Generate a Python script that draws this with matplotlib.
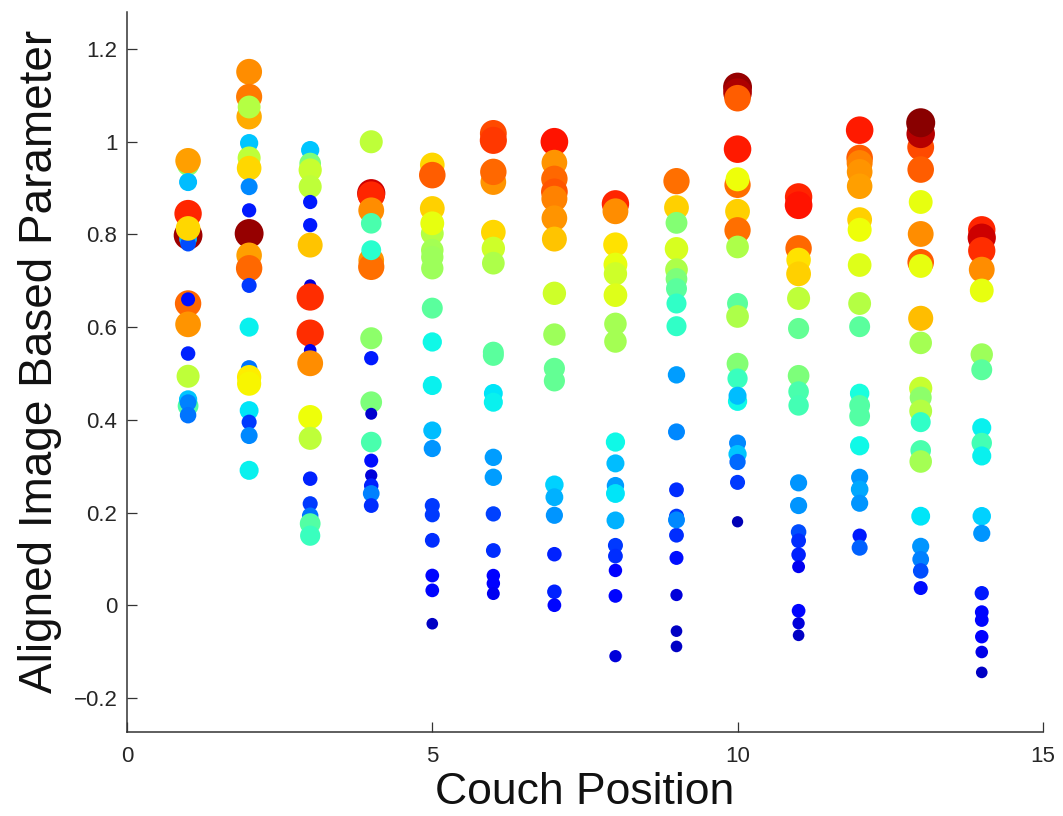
import numpy as np
import matplotlib
matplotlib.use("Agg")
import matplotlib.pyplot as plt

# ---- data: per couch position, y values and colour value (jet, 0..1) ----
couch_positions = [1, 2, 3, 4, 5, 6, 7, 8, 9, 10, 11, 12, 13, 14]

y_pos01 = [0.95, 0.959, 0.913, 0.845, 0.798, 0.79, 0.78, 0.813, 0.651, 0.66, 0.606, 0.543, 0.494, 0.43, 0.444, 0.437, 0.41]
c_pos01 = [0.52, 0.74, 0.31, 0.87, 0.97, 0.30, 0.20, 0.68, 0.80, 0.14, 0.75, 0.16, 0.58, 0.45, 0.32, 0.25, 0.24]

y_pos02 = [1.151, 1.097, 1.054, 1.075, 0.997, 0.965, 0.943, 0.903, 0.852, 0.802, 0.755, 0.727, 0.69, 0.60, 0.511, 0.492, 0.478, 0.42, 0.395, 0.366, 0.291]
c_pos02 = [0.76, 0.78, 0.73, 0.57, 0.32, 0.58, 0.68, 0.26, 0.15, 0.98, 0.74, 0.80, 0.18, 0.36, 0.24, 0.66, 0.65, 0.35, 0.18, 0.26, 0.36]

y_pos03 = [0.982, 0.953, 0.939, 0.903, 0.870, 0.82, 0.777, 0.69, 0.665, 0.587, 0.55, 0.522, 0.406, 0.36, 0.273, 0.219, 0.193, 0.176, 0.15]
c_pos03 = [0.32, 0.50, 0.59, 0.58, 0.15, 0.15, 0.70, 0.08, 0.86, 0.86, 0.09, 0.76, 0.64, 0.58, 0.16, 0.18, 0.24, 0.45, 0.42]

y_pos04 = [1.0, 0.889, 0.885, 0.852, 0.824, 0.744, 0.73, 0.766, 0.576, 0.533, 0.438, 0.413, 0.352, 0.312, 0.28, 0.258, 0.241, 0.215]
c_pos04 = [0.58, 0.93, 0.87, 0.76, 0.44, 0.75, 0.79, 0.40, 0.52, 0.15, 0.50, 0.07, 0.44, 0.14, 0.08, 0.16, 0.25, 0.17]

y_pos05 = [0.95, 0.928, 0.856, 0.802, 0.824, 0.766, 0.751, 0.727, 0.641, 0.568, 0.474, 0.377, 0.338, 0.215, 0.195, 0.14, 0.064, 0.032, -0.04]
c_pos05 = [0.68, 0.81, 0.69, 0.57, 0.63, 0.55, 0.54, 0.54, 0.46, 0.37, 0.36, 0.31, 0.27, 0.18, 0.18, 0.17, 0.13, 0.13, 0.06]

y_pos06 = [1.018, 1.003, 0.913, 0.935, 0.805, 0.77, 0.738, 0.546, 0.539, 0.457, 0.438, 0.319, 0.276, 0.197, 0.118, 0.064, 0.047, 0.025]
c_pos06 = [0.83, 0.85, 0.75, 0.80, 0.68, 0.60, 0.56, 0.46, 0.46, 0.35, 0.36, 0.28, 0.28, 0.19, 0.17, 0.12, 0.12, 0.10]

y_pos07 = [1.0, 0.955, 0.92, 0.892, 0.877, 0.835, 0.79, 0.673, 0.584, 0.511, 0.484, 0.26, 0.233, 0.194, 0.11, 0.029, 0.0]
c_pos07 = [0.89, 0.75, 0.80, 0.82, 0.77, 0.75, 0.70, 0.60, 0.54, 0.47, 0.47, 0.33, 0.30, 0.27, 0.16, 0.16, 0.13]

y_pos08 = [0.866, 0.85, 0.778, 0.735, 0.715, 0.669, 0.607, 0.569, 0.352, 0.306, 0.258, 0.241, 0.183, 0.129, 0.106, 0.075, 0.02, -0.11]
c_pos08 = [0.87, 0.76, 0.67, 0.63, 0.60, 0.62, 0.55, 0.55, 0.37, 0.31, 0.28, 0.35, 0.30, 0.18, 0.17, 0.12, 0.13, 0.08]

y_pos09 = [0.915, 0.858, 0.825, 0.769, 0.724, 0.704, 0.683, 0.651, 0.602, 0.497, 0.374, 0.249, 0.192, 0.151, 0.184, 0.102, 0.022, -0.056, -0.089]
c_pos09 = [0.79, 0.69, 0.51, 0.61, 0.56, 0.50, 0.46, 0.41, 0.41, 0.28, 0.26, 0.17, 0.18, 0.17, 0.26, 0.14, 0.08, 0.06, 0.06]

y_pos10 = [1.118, 1.106, 1.094, 0.984, 0.907, 0.919, 0.85, 0.809, 0.773, 0.651, 0.623, 0.521, 0.489, 0.44, 0.452, 0.35, 0.326, 0.309, 0.265, 0.18]
c_pos10 = [0.98, 0.96, 0.81, 0.88, 0.79, 0.64, 0.69, 0.79, 0.56, 0.46, 0.56, 0.51, 0.42, 0.37, 0.31, 0.26, 0.32, 0.23, 0.18, 0.05]

y_pos11 = [0.881, 0.863, 0.77, 0.745, 0.715, 0.662, 0.597, 0.495, 0.461, 0.431, 0.264, 0.215, 0.158, 0.139, 0.109, 0.083, -0.012, -0.039, -0.065]
c_pos11 = [0.87, 0.89, 0.80, 0.67, 0.69, 0.58, 0.47, 0.50, 0.44, 0.43, 0.27, 0.27, 0.20, 0.17, 0.16, 0.10, 0.13, 0.08, 0.06]

y_pos12 = [1.025, 0.965, 0.954, 0.935, 0.904, 0.832, 0.81, 0.734, 0.651, 0.601, 0.457, 0.431, 0.408, 0.344, 0.276, 0.25, 0.22, 0.15, 0.124]
c_pos12 = [0.88, 0.81, 0.77, 0.75, 0.74, 0.69, 0.64, 0.62, 0.57, 0.46, 0.38, 0.45, 0.45, 0.37, 0.27, 0.29, 0.27, 0.15, 0.22]

y_pos13 = [0.988, 1.017, 1.041, 0.94, 0.87, 0.801, 0.74, 0.732, 0.619, 0.566, 0.468, 0.448, 0.419, 0.395, 0.334, 0.31, 0.192, 0.127, 0.099, 0.074, 0.037]
c_pos13 = [0.83, 0.95, 0.99, 0.81, 0.63, 0.76, 0.81, 0.63, 0.71, 0.55, 0.59, 0.52, 0.57, 0.41, 0.44, 0.55, 0.35, 0.27, 0.25, 0.20, 0.14]

y_pos14 = [0.81, 0.793, 0.765, 0.724, 0.679, 0.541, 0.508, 0.383, 0.35, 0.322, 0.192, 0.155, 0.026, -0.015, -0.032, -0.068, -0.101, -0.145]
c_pos14 = [0.87, 0.93, 0.86, 0.76, 0.63, 0.54, 0.46, 0.36, 0.43, 0.36, 0.33, 0.27, 0.15, 0.13, 0.13, 0.12, 0.09, 0.06]

y_lists = [y_pos01, y_pos02, y_pos03, y_pos04, y_pos05, y_pos06, y_pos07,
           y_pos08, y_pos09, y_pos10, y_pos11, y_pos12, y_pos13, y_pos14]
c_lists = [c_pos01, c_pos02, c_pos03, c_pos04, c_pos05, c_pos06, c_pos07,
           c_pos08, c_pos09, c_pos10, c_pos11, c_pos12, c_pos13, c_pos14]

x_ticks = [0, 5, 10, 15]
y_ticks = [-0.2, 0, 0.2, 0.4, 0.6, 0.8, 1.0, 1.2]
y_tick_labels = ["\u22120.2", "0", "0.2", "0.4", "0.6", "0.8", "1", "1.2"]

# ---- build flat arrays ----
xs, ys, cs = [], [], []
for pos, yl, cl in zip(couch_positions, y_lists, c_lists):
    xs += [pos] * len(yl)
    ys += list(yl)
    cs += list(cl)
xs = np.array(xs, float)
ys = np.array(ys, float)
cs = np.array(cs, float)

# marker area grows with colour value (diameter in px -> points^2)
diam_px = np.sqrt(90 + 760 * cs)
sizes = (diam_px * 0.72) ** 2

plt.rcParams['font.family'] = ['Liberation Sans', 'DejaVu Sans']

fig = plt.figure(figsize=(10.63, 8.16), dpi=100)
ax = fig.add_axes([0.1195, 0.1033, 0.8615, 0.882])

ax.scatter(xs, ys, s=sizes, c=cs, cmap='jet', vmin=0, vmax=1,
           edgecolors='none', linewidths=0)

ax.set_xlim(0, 15)
ax.set_ylim(-0.273, 1.28)
ax.set_xticks(x_ticks)
ax.set_xticklabels([str(t) for t in x_ticks])
ax.set_yticks(y_ticks)
ax.set_yticklabels(y_tick_labels)

for side in ['top', 'right']:
    ax.spines[side].set_visible(False)
for side in ['left', 'bottom']:
    ax.spines[side].set_color('#333333')
    ax.spines[side].set_linewidth(1.1)

ax.tick_params(direction='in', length=7, width=0.9, color='#333333',
               labelsize=16, labelcolor='#262626')
ax.tick_params(axis='y', pad=7)
ax.tick_params(axis='x', pad=10)

ax.set_xlabel("Couch Position", fontsize=32, color='#111111')
ax.set_ylabel("Aligned Image Based Parameter", fontsize=33, color='#111111')
ax.xaxis.set_label_coords(0.5, -0.056)
ax.yaxis.set_label_coords(-0.071, 0.514)

fig.savefig("out.png", dpi=100)
